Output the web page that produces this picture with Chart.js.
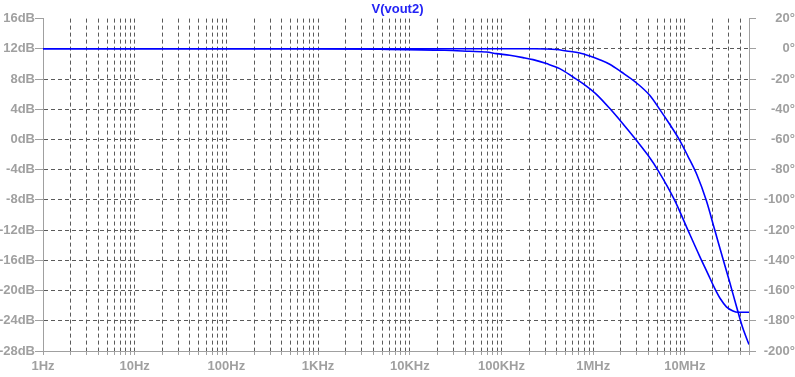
<!DOCTYPE html>
<html>
<head>
<meta charset="utf-8">
<script src="https://cdn.jsdelivr.net/npm/chart.js@4/dist/chart.umd.min.js"></script>
<style>
  html, body { margin: 0; padding: 0; background: #ffffff; }
  #wrap { width: 795px; height: 377px; }
</style>
</head>
<body>
<div id="wrap"><canvas id="c" width="795" height="377"></canvas></div>
<script>
// ---- data ----
// magnitude V(vout2) in dB (left axis)
const magFreq = [1, 1e3, 1e5, 2.302e5, 3.969e5, 5.102e5, 7.127e5, 9.158e5, 1.177e6, 1.513e6, 2.030e6, 2.959e6, 4.131e6, 5.312e6, 6.829e6, 8.777e6, 1.073e7, 1.345e7, 1.716e7, 2.113e7, 2.617e7, 3.081e7, 3.645e7, 4.216e7, 5e7];
const magDb   = [12, 12, 12, 12, 11.90, 11.71, 11.45, 11.05, 10.55, 9.95, 8.93, 7.50, 5.85, 3.99, 2.01, -0.11, -2.16, -4.61, -8.12, -11.96, -15.93, -18.91, -22.08, -24.73, -27.15];

// phase of V(vout2) in degrees (right axis)
const phaseFreq = [1, 630, 4696, 24030, 45000, 68440, 87990, 122900, 171600, 220500, 308800, 431200, 602300, 774200, 1.084e6, 1.579e6, 2.030e6, 2.959e6, 3.960e6, 5.089e6, 7.742e6, 1.046e7, 1.450e7, 1.773e7, 2.113e7, 2.457e7, 2.836e7, 3.346e7, 3.795e7, 5e7];
const phaseDeg  = [0, 0, -0.32, -0.98, -1.64, -2.11, -3.16, -4.29, -5.81, -7.14, -9.78, -13.09, -18.65, -23.02, -30.10, -40.69, -48.43, -60.55, -70.47, -80.40, -100.26, -118.13, -137.32, -148.57, -158.5, -165.78, -170.75, -173.53, -174.39, -174.39];

const decadeValues = [1, 10, 100, 1e3, 1e4, 1e5, 1e6, 1e7];
const decadeLabels = ['1Hz', '10Hz', '100Hz', '1KHz', '10KHz', '100KHz', '1MHz', '10MHz'];
const xMin = 1, xMax = 5e7;
const dbMin = -28, dbMax = 16, dbStep = 4;
const degMin = -200, degMax = 20, degStep = 20;
const titleText = 'V(vout2)';

// ---- build ----
const minorTicks = [];
decadeValues.forEach(d => {
  for (let m = 1; m <= 9; m++) {
    const v = d * m;
    if (v <= xMax) minorTicks.push(v);
  }
});
if (minorTicks[minorTicks.length - 1] !== xMax) minorTicks.push(xMax);

const magPts = magFreq.map((f, i) => ({ x: f, y: magDb[i] }));
const phasePts = phaseFreq.map((f, i) => ({ x: f, y: phaseDeg[i] }));

const AXIS = '#a0a0a0';
const GRID = '#5a5a5a';
const FONT = { family: '"Liberation Sans", Arial, sans-serif', size: 13, weight: 'bold' };

new Chart(document.getElementById('c'), {
  type: 'scatter',
  data: {
    datasets: [
      { label: 'mag', data: magPts, yAxisID: 'y', showLine: true, borderColor: '#0000ff', borderWidth: 1.6, pointRadius: 0, cubicInterpolationMode: 'monotone', fill: false },
      { label: 'phase', data: phasePts, yAxisID: 'y1', showLine: true, borderColor: '#0000ff', borderWidth: 1.6, pointRadius: 0, cubicInterpolationMode: 'monotone', fill: false }
    ]
  },
  options: {
    responsive: false,
    animation: false,
    devicePixelRatio: 1,
    layout: { padding: { top: 0, left: 0, right: 0, bottom: 0 } },
    plugins: {
      legend: { display: false },
      tooltip: { enabled: false },
      title: {
        display: true,
        text: titleText,
        color: '#2323f5',
        font: { family: FONT.family, size: 13, weight: 'bold', lineHeight: 1.2 },
        padding: { top: 2, bottom: 1 }
      }
    },
    scales: {
      x: {
        type: 'logarithmic',
        position: 'bottom',
        min: xMin,
        max: xMax,
        afterBuildTicks: (axis) => { axis.ticks = minorTicks.map(v => ({ value: v })); },
        afterFit: (scale) => { scale.height = 26; },
        ticks: {
          autoSkip: false,
          maxRotation: 0,
          minRotation: 0,
          color: AXIS,
          font: FONT,
          padding: 4,
          callback: (value) => {
            const i = decadeValues.indexOf(value);
            return i >= 0 ? decadeLabels[i] : '';
          }
        },
        grid: {
          color: (ctx) => (ctx.tick && (ctx.tick.value === xMin || ctx.tick.value === xMax)) ? 'rgba(0,0,0,0)' : GRID,
          tickColor: AXIS,
          tickLength: 4,
          lineWidth: 1
        },
        border: { display: true, color: AXIS, width: 1, dash: [4, 3] }
      },
      y: {
        type: 'linear',
        position: 'left',
        min: dbMin,
        max: dbMax,
        afterFit: (scale) => { scale.width = 43; },
        ticks: {
          stepSize: dbStep,
          color: AXIS,
          font: FONT,
          padding: 0,
          callback: (v) => v + 'dB'
        },
        grid: {
          color: (ctx) => (ctx.tick && (ctx.tick.value === dbMin || ctx.tick.value === dbMax)) ? 'rgba(0,0,0,0)' : GRID,
          tickColor: AXIS,
          tickLength: 8,
          lineWidth: 1
        },
        border: { display: true, color: AXIS, width: 1, dash: [4, 3] }
      },
      y1: {
        type: 'linear',
        position: 'right',
        min: degMin,
        max: degMax,
        afterFit: (scale) => { scale.width = 46; },
        ticks: {
          stepSize: degStep,
          color: AXIS,
          font: FONT,
          padding: 0,
          crossAlign: 'far',
          callback: (v) => v + '°'
        },
        grid: {
          drawOnChartArea: false,
          tickColor: AXIS,
          tickLength: 7,
          color: AXIS
        },
        border: { display: true, color: AXIS, width: 1 }
      }
    }
  }
});
</script>
</body>
</html>
